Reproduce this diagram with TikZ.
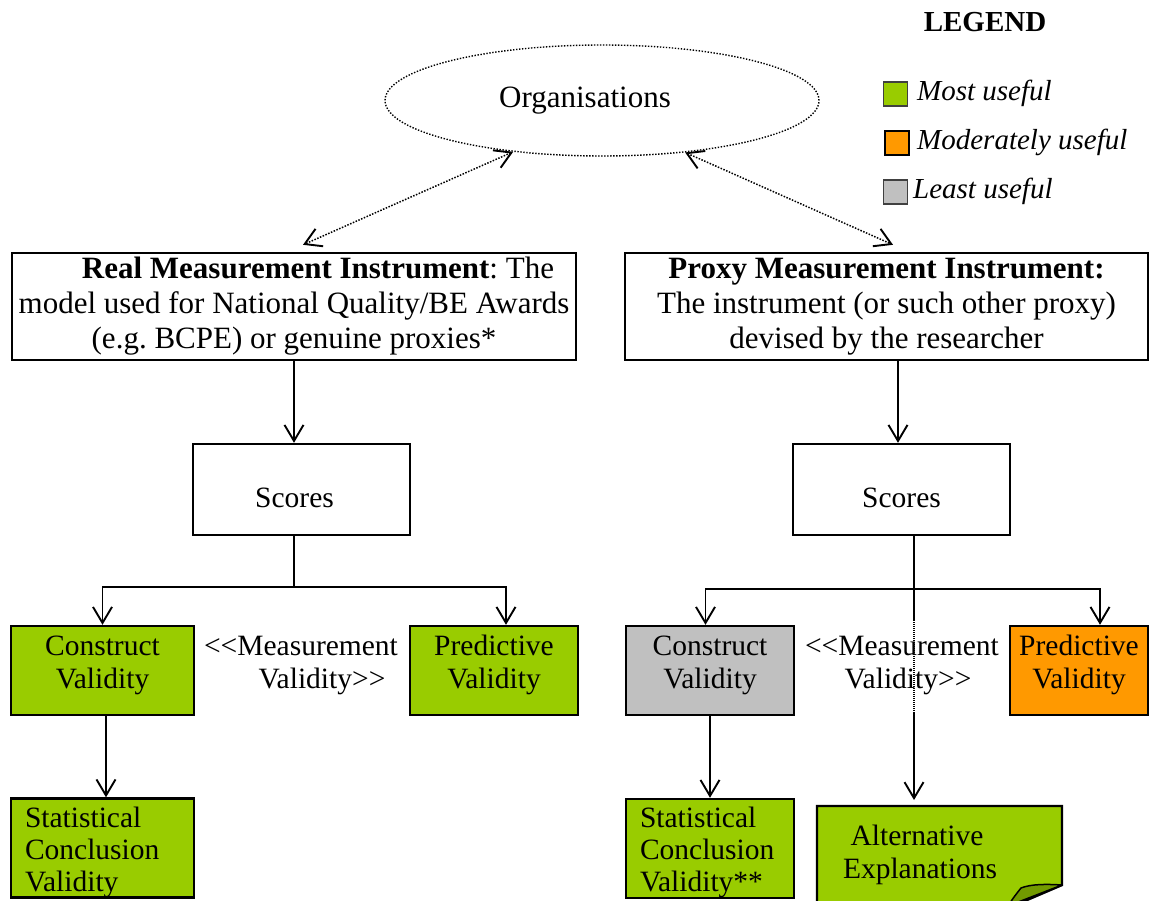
\documentclass[tikz,border=0pt]{standalone}
\usepackage{fontspec}
\setmainfont{Liberation Serif}[Ligatures=TeXOff]
\usetikzlibrary{arrows.meta,shapes.geometric}
\definecolor{mostg}{HTML}{99CC00}
\definecolor{modo}{HTML}{FF9900}
\definecolor{leastg}{HTML}{C0C0C0}
\definecolor{foldg}{HTML}{729A00}
\frenchspacing
\begin{document}
\begin{tikzpicture}[x=1pt,y=-1pt,
  font=\fontsize{29.5}{33}\selectfont,
  box/.style={draw, line width=2.4pt, inner sep=0pt},
  bigtxt/.style={font=\fontsize{31}{35}\selectfont},
  twoline/.style={align=center, text height=35pt, text depth=0pt},
  threeline/.style={align=left, inner xsep=14pt, text height=0pt, text depth=42pt,
    font=\fontsize{29.5}{32}\selectfont},
  barb/.tip={Straight Barb[length=16pt,width=19pt,line width=1.9pt]},
  conn/.style={line width=1.9pt, -barb},
  plainline/.style={line width=1.9pt},
  dotarrow/.style={line width=1.5pt, dash pattern=on 1.5pt off 1.5pt, barb-barb},
  legsq/.style={draw, line width=1.8pt, minimum size=24pt, inner sep=0pt},
  legtxt/.style={font=\fontsize{29}{33}\selectfont\itshape, anchor=base west, inner sep=0pt},
]
\useasboundingbox (0,0) rectangle (1155,901);
\clip (0,0) rectangle (1155,901);

% Legend
\node[font=\fontsize{29}{33}\selectfont\bfseries, anchor=base, inner sep=0pt] (legend) at (985,32) {LEGEND};
\node[legsq, fill=mostg, draw=black!75] (legG) at (895.5,94) {};
\node[legsq, fill=modo] (legO) at (897,143) {};
\node[legsq, fill=leastg, draw=black!75] (legL) at (895.5,192) {};
\node[legtxt] (legGt) at (917,101) {Most useful};
\node[legtxt] (legOt) at (917,150) {Moderately useful};
\node[legtxt] (legLt) at (913,199) {Least useful};

% Organisations
\node[ellipse, draw, line width=1.4pt, dash pattern=on 1.4pt off 1.6pt,
  minimum width=434pt, minimum height=111pt, inner sep=0pt, bigtxt]
  (org) at (602,100.5) {\hspace*{-34pt}Organisations};

% Instruments
\node[box, bigtxt, minimum width=564pt, minimum height=107pt, align=center]
  (real) at (294,306.5)
  {\hspace*{48pt}\textbf{Real Measurement Instrument}: The\\
   model used for National Quality/BE Awards\\
   (e.g. BCPE) or genuine proxies*};
\node[box, bigtxt, minimum width=523pt, minimum height=107pt, align=center]
  (proxy) at (886.5,306.5)
  {\textbf{Proxy Measurement Instrument:}\\
   The instrument (or such other proxy)\\
   devised by the researcher};

% Scores
\node[box, minimum width=217pt, minimum height=91pt, text height=35pt, text depth=0pt]
  (scL) at (301.5,489.5) {\hspace*{-14pt}Scores};
\node[box, minimum width=217pt, minimum height=91pt, text height=35pt, text depth=0pt]
  (scR) at (901.5,489.5) {Scores};

% Validity boxes left
\node[box, fill=mostg, minimum width=183pt, minimum height=89pt, twoline]
  (conL) at (102.5,670.5) {Construct\\Validity};
\node[box, fill=mostg, minimum width=168pt, minimum height=89pt, twoline]
  (preL) at (494,670.5) {Predictive\\Validity};
\node[twoline, inner sep=0pt] (mvL) at (301,670.5) {<<Measurement\\\hspace*{42pt}Validity>>};
\node[box, fill=mostg, minimum width=183pt, minimum height=99pt, text width=155pt, threeline]
  (statL) at (102.5,848) {Statistical\\Conclusion\\Validity};

% Validity boxes right
\node[box, fill=leastg, minimum width=168pt, minimum height=89pt, twoline]
  (conR) at (710,670.5) {Construct\\Validity};
\node[box, fill=modo, minimum width=138pt, minimum height=89pt, twoline]
  (preR) at (1079,670.5) {Predictive\\Validity};
\node[box, fill=mostg, minimum width=168pt, minimum height=99pt, text width=140pt, threeline]
  (statR) at (710,848.5) {Statistical\\Conclusion\\Validity**};

% Alternative explanations (folded note)
\filldraw[fill=mostg, line width=2.4pt] (817,806) -- (1062,806) -- (1062,885)
  -- (1006,909) -- (817,909) -- cycle;
\filldraw[fill=foldg, line width=1.5pt, line join=round] (1062,885)
  .. controls (1046,884) and (1031,884) .. (1021,888)
  .. controls (1017,893) and (1013,898) .. (1008,906) -- cycle;
\node[align=center, inner sep=0pt] (alt) at (920,855) {\hspace*{-6pt}Alternative\\Explanations};

% Connectors
\draw[dotarrow] (org.210) -- ([xshift=9pt,yshift=7pt]real.north);
\draw[dotarrow] (org.328) -- ([xshift=6.5pt,yshift=7pt]proxy.north);

\draw[conn] (real.south) -- (real.south |- scL.north);
\coordinate (pin) at ([xshift=11.5pt]proxy.south);
\draw[conn] (pin) -- (pin |- scR.north);

\coordinate (sL) at (scL.south -| real.south);
\coordinate (jL) at (294,587);
\draw[plainline] (sL) -- (jL);
\draw[conn] (jL) -| (conL.north);
\draw[conn] (jL) -| ([xshift=12pt]preL.north);
\coordinate (cLout) at ([xshift=3.5pt]conL.south);
\draw[conn] (cLout) -- (cLout |- statL.north);

\coordinate (sR) at ([xshift=12.5pt]scR.south);
\coordinate (jR) at (914,589);
\coordinate (mR1) at (914,620);
\coordinate (mR2) at (914,712);
\coordinate (altin) at (914,800);
\draw[plainline] (sR) -- (mR1);
\draw[line width=1.2pt, dash pattern=on 1pt off 1pt] (mR1) -- (mR2);
\draw[conn] (mR2) -- (altin);
\draw[conn] (jR) -| ([xshift=-4.5pt]conR.north);
\draw[conn] (jR) -| ([xshift=21pt]preR.north);
\draw[conn] (conR.south) -- (statR.north);

\node[twoline, inner sep=0pt] (mvR) at (902,670.5) {<<Measurement\\\hspace*{12pt}Validity>>};
\end{tikzpicture}
\end{document}
